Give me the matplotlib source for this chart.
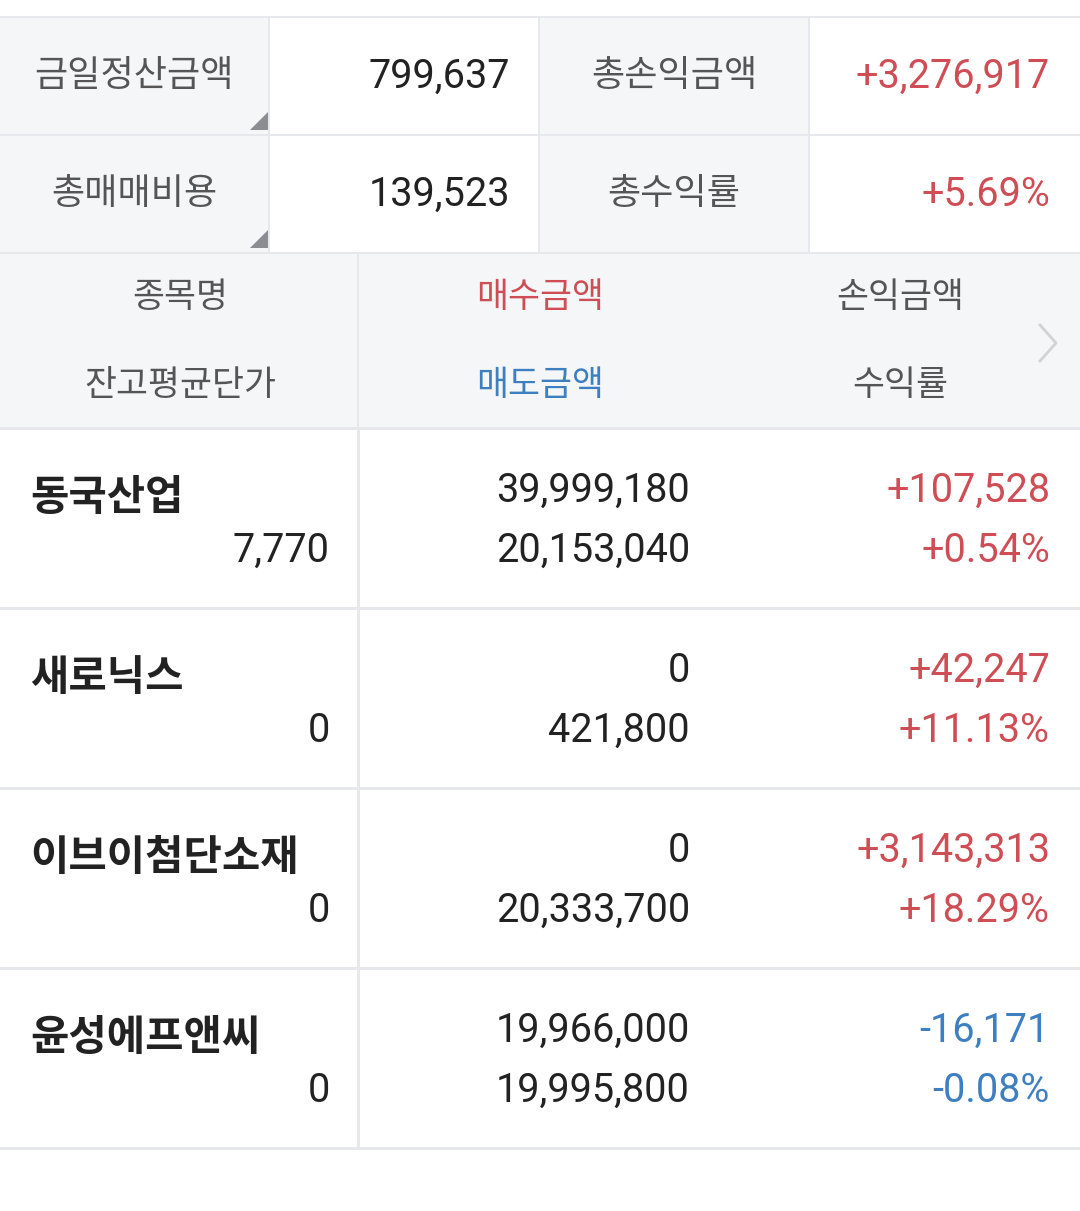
import matplotlib
matplotlib.use("Agg")
import matplotlib.pyplot as plt
from matplotlib.patches import Rectangle, Polygon

plt.rcParams['font.family'] = ['Noto Sans CJK KR', 'DejaVu Sans']
NUMFONT = ['Roboto', 'DejaVu Sans']

summary_labels = [["금일정산금액", "총손익금액"], ["총매매비용", "총수익률"]]
summary_values = [["799,637", "+3,276,917"], ["139,523", "+5.69%"]]
header_top = ["종목명", "매수금액", "손익금액"]
header_bot = ["잔고평균단가", "매도금액", "수익률"]
names = ["동국산업", "새로닉스", "이브이첨단소재", "윤성에프앤씨"]
avg_prices = ["7,770", "0", "0", "0"]
buy_amounts = ["39,999,180", "0", "0", "19,966,000"]
sell_amounts = ["20,153,040", "421,800", "20,333,700", "19,995,800"]
pnl = ["+107,528", "+42,247", "+3,143,313", "-16,171"]
rates = ["+0.54%", "+11.13%", "+18.29%", "-0.08%"]

RED = "#cf4d55"; BLUE = "#3d7fc1"; DARK = "#222222"; GRAY = "#555555"
BG = "#f5f6f8"; LINE = "#e6e8eb"

fig = plt.figure(figsize=(10.8, 12.11), dpi=100)
ax = fig.add_axes([0, 0, 1, 1])
ax.set_xlim(0, 1080); ax.set_ylim(1211, 0); ax.axis('off')

def col(v):
    return RED if v.startswith('+') else (BLUE if v.startswith('-') else DARK)

def num(x, y, s, c=None):
    ax.text(x, y, s, ha='right', va='center', fontsize=28.5, color=c or col(s),
            family=NUMFONT)

ax.add_patch(Rectangle((0, 16), 1080, 2, color=LINE, lw=0))
for r in range(2):
    y0 = 18 + r * 118
    h = 116
    for c in range(2):
        xl = c * 540
        ax.add_patch(Rectangle((xl, y0), 268, h, color=BG, lw=0))
        ax.text(xl + 134, y0 + h / 2, summary_labels[r][c], ha='center', va='center',
                fontsize=26, color=GRAY)
        num(xl + 510, y0 + h / 2, summary_values[r][c])
        if c == 0:
            ax.add_patch(Polygon([[268, y0 + h - 4], [250, y0 + h - 4], [268, y0 + h - 22]],
                                 color="#8a8d92", lw=0))
    ax.add_patch(Rectangle((0, y0 + h), 1080, 2, color=LINE, lw=0))
ax.add_patch(Rectangle((538, 18), 2, 236, color=LINE, lw=0))
ax.add_patch(Rectangle((808, 18), 2, 236, color=LINE, lw=0))
ax.add_patch(Rectangle((268, 18), 2, 236, color=LINE, lw=0))

ax.add_patch(Rectangle((0, 254), 1080, 174, color=BG, lw=0))
ax.add_patch(Rectangle((357, 254), 2, 174, color=LINE, lw=0))
xs = [180, 540, 900]
for i in range(3):
    ax.text(xs[i], 298, header_top[i], ha='center', va='center', fontsize=25,
            color=GRAY if i != 1 else RED)
    ax.text(xs[i], 385, header_bot[i], ha='center', va='center', fontsize=25,
            color=GRAY if i != 1 else BLUE)
ax.plot([1040, 1056, 1040], [325, 343, 361], color="#d0d2d6", lw=2)
ax.add_patch(Rectangle((0, 427), 1080, 3, color=LINE, lw=0))
for i in range(len(names)):
    y0 = 430 + i * 180
    ax.add_patch(Rectangle((357, y0), 3, 177, color=LINE, lw=0))
    ax.add_patch(Rectangle((0, y0 + 177), 1080, 3, color=LINE, lw=0))
    ax.text(30, y0 + 68, names[i], ha='left', va='center', fontsize=30, color=DARK,
            fontweight='bold')
    num(330, y0 + 120, avg_prices[i], DARK)
    num(690, y0 + 60, buy_amounts[i], DARK)
    num(690, y0 + 120, sell_amounts[i], DARK)
    num(1050, y0 + 60, pnl[i])
    num(1050, y0 + 120, rates[i])

fig.savefig("out.png", dpi=100)
